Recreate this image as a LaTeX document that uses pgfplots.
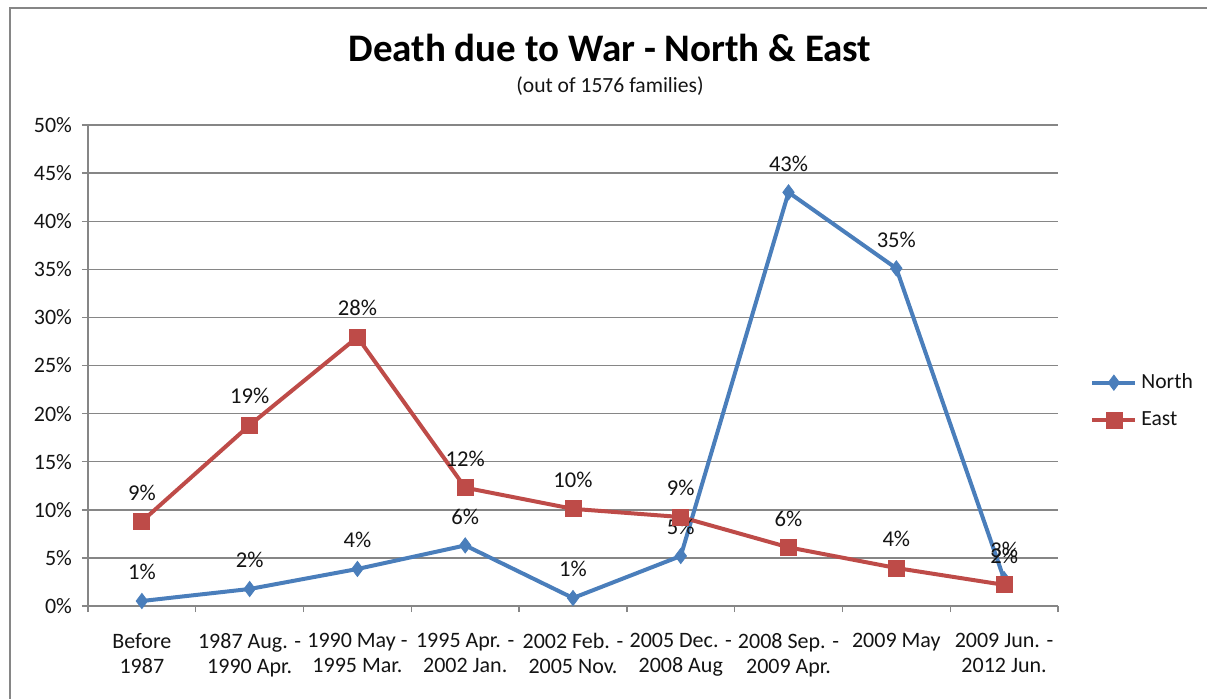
\documentclass[border=0pt]{standalone}
\usepackage{fontspec}
\setmainfont{Carlito}
\usepackage{pgfplots}
\pgfplotsset{compat=1.18}
\definecolor{northc}{RGB}{74,126,187}
\definecolor{eastc}{RGB}{190,75,72}
\definecolor{gridc}{RGB}{134,134,134}
\definecolor{txtc}{RGB}{20,20,20}
\begin{document}
\begin{tikzpicture}
\useasboundingbox (0,0) rectangle (603.5pt,-349pt);
\draw[gridc, line width=1.2pt] (5pt,-360pt) -- (5pt,-4pt) -- (620pt,-4pt);
\node[font=\bfseries\fontsize{19.5}{23}\selectfont] at (305pt,-24pt) {Death due to War - North \& East};
\node[font=\fontsize{10.8}{13}\selectfont, txtc] at (305pt,-43pt) {(out of 1576 families)};
\begin{axis}[
  at={(44pt,-303pt)}, anchor=south west,
  scale only axis, width=485pt, height=240.5pt,
  xmin=-0.5, xmax=8.5, ymin=0, ymax=50,
  axis x line=bottom, axis y line=left,
  axis line style={-, gridc, line width=0.7pt},
  xtick={-0.5,0.5,...,8.5},
  xticklabels={},
  extra x ticks={0,...,8},
  extra x tick labels={Before\\1987, 1987 Aug. -\\1990 Apr., 1990 May -\\1995 Mar., 1995 Apr. -\\2002 Jan., 2002 Feb. -\\2005 Nov., 2005 Dec. -\\2008 Aug, 2008 Sep. -\\2009 Apr., 2009 May, 2009 Jun. -\\2012 Jun.},
  extra x tick style={major tick length=0pt},
  ytick={0,5,...,50},
  yticklabel={\pgfmathprintnumber[assume math mode=true]{\tick}\%},
  major tick length=3pt,
  tick align=outside,
  tick style={gridc, line width=0.7pt},
  ymajorgrids, grid style={gridc, line width=0.7pt},
  /pgf/number format/assume math mode=true,
  tick label style={font=\fontsize{11}{12.5}\selectfont, txtc},
  xticklabel style={align=center, yshift=-10pt},
  yticklabel style={xshift=-1.5pt},
  nodes near coords={\pgfmathprintnumber[fixed,precision=0,assume math mode=true]{\pgfplotspointmeta}\%},
  nodes near coords style={font=\fontsize{11.3}{13}\selectfont, txtc, anchor=south, yshift=7pt},
  point meta=y,
  legend style={at={(1.033,0.426)}, anchor=west, draw=none, fill=none, font=\fontsize{10.8}{13}\selectfont, text=txtc, row sep=6pt, inner sep=0pt},
  legend cell align=left,
  legend image code/.code={\draw[mark repeat=2,mark phase=2] plot coordinates {(0pt,0pt) (10.75pt,0pt) (21.5pt,0pt)};},
]
\addplot[northc, line width=2pt, mark=diamond*, mark size=3.8pt, mark options={solid, fill=northc, line width=0.4pt}]
  coordinates {(0,0.52) (1,1.77) (2,3.85) (3,6.3) (4,0.83) (5,5.2) (6,43.0) (7,35.1) (8,2.8)};
\addlegendentry{North}
\addplot[eastc, line width=2pt, mark=square*, mark size=4pt, mark options={solid, fill=eastc, line width=0.4pt}]
  coordinates {(0,8.8) (1,18.8) (2,27.95) (3,12.3) (4,10.1) (5,9.25) (6,6.1) (7,3.95) (8,2.2)};
\addlegendentry{East}
\end{axis}
\end{tikzpicture}
\end{document}
